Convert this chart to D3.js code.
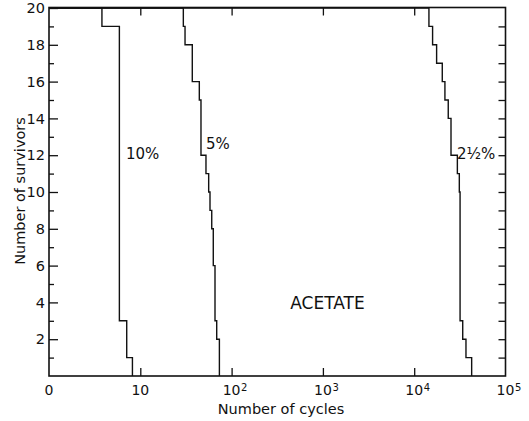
<!DOCTYPE html>
<html>
<head>
<meta charset="utf-8">
<script src="https://cdn.jsdelivr.net/npm/d3@7"></script>
<style>
  body { margin: 0; background: #fff; }
  svg { display: block; font-family: "DejaVu Sans", sans-serif; }
  .axis path { display: none; }
  .axis line { stroke: #111; stroke-width: 1.3; }
  .axis text { fill: #111; }
</style>
</head>
<body>
<div class="container"></div>
<script>
// survivors remaining after each failure, cycles
const cycles10 = [3.8, 5.9, 7.1, 8.2];
const surv10 = [19, 3, 1, 0];
const cycles5 = [29.6, 30.9, 37.1, 44.3, 46.2, 52.4, 56.1, 58.0, 60.6, 63.0, 65.8, 68.7, 73.5];
const surv5 = [19, 18, 16, 15, 12, 11, 10, 9, 8, 6, 3, 2, 0];
const cycles25 = [14500, 15900, 17600, 20300, 21700, 23600, 25300, 29700, 31200, 31800, 34000, 36900, 42600];
const surv25 = [19, 18, 17, 16, 15, 14, 12, 11, 10, 3, 2, 1, 0];

const seriesNames = ["10%", "5%", "2½%"];
const startCount = 20;

const xTickValues = [1, 10, 100, 1000, 10000, 100000];
const xTickBase = ["0", "10", "10", "10", "10", "10"];
const xTickExp = ["", "", "2", "3", "4", "5"];
const yMajor = [2, 4, 6, 8, 10, 12, 14, 16, 18, 20];
const yMinor = [1, 3, 5, 7, 9, 11, 13, 15, 17, 19];
const yAll = d3.range(1, 20);

const w = 529;
const h = 421;
const padLeft = 49, padRight = 505.5, padTop = 7.5, padBottom = 376;

const xScale = d3.scaleLog().domain([1, 100000]).range([padLeft, padRight]);
const yScale = d3.scaleLinear().domain([0, 20]).range([padBottom, 8]);

const svg = d3.select(".container")
  .append("svg")
  .attr("width", w)
  .attr("height", h);

svg.append("rect").attr("width", w).attr("height", h).attr("fill", "#fff");

// bottom axis: inward ticks, labels done by hand for the exponents
const xAxis = d3.axisBottom(xScale)
  .tickValues(xTickValues.slice(1, 5))
  .tickSizeInner(-8).tickSizeOuter(0)
  .tickFormat("");
svg.append("g")
  .attr("class", "axis")
  .attr("transform", "translate(0," + padBottom + ")")
  .call(xAxis);

const xLab = svg.append("g").attr("font-size", 14).attr("fill", "#111");
xTickValues.forEach((v, i) => {
  const g = xLab.append("g").attr("transform", "translate(" + xScale(v) + ",395)");
  g.append("text").attr("text-anchor", "middle").text(xTickBase[i]);
  if (xTickExp[i] !== "") {
    g.append("text")
      .attr("x", 9.5)
      .attr("y", -4)
      .attr("font-size", 10)
      .text(xTickExp[i]);
  }
});

// top axis ticks
svg.append("g")
  .attr("class", "axis")
  .attr("transform", "translate(0," + padTop + ")")
  .call(d3.axisTop(xScale).tickValues(xTickValues.slice(1, 5)).tickSizeInner(-8).tickSizeOuter(0).tickFormat(""));

// left axis, major with labels and minor without
svg.append("g")
  .attr("class", "axis")
  .attr("transform", "translate(" + padLeft + ",0)")
  .call(d3.axisLeft(yScale).tickValues(yMajor).tickSizeInner(-9).tickSizeOuter(0).tickPadding(4).tickFormat(d3.format("d")))
  .call(g => g.selectAll("text").attr("font-size", 14.5).attr("font-family", "DejaVu Sans"));
svg.append("g")
  .attr("class", "axis")
  .attr("transform", "translate(" + padLeft + ",0)")
  .call(d3.axisLeft(yScale).tickValues(yMinor).tickSizeInner(-5).tickSizeOuter(0).tickFormat(""));

// right axis ticks at every survivor count
svg.append("g")
  .attr("class", "axis")
  .attr("transform", "translate(" + padRight + ",0)")
  .call(d3.axisRight(yScale).tickValues(yAll).tickSizeInner(-7).tickSizeOuter(0).tickFormat(""));

// frame
svg.append("rect")
  .attr("x", padLeft).attr("y", padTop)
  .attr("width", padRight - padLeft).attr("height", padBottom - padTop)
  .attr("fill", "none").attr("stroke", "#111").attr("stroke-width", 1.6);

// step curves
const line = d3.line()
  .x(d => xScale(d[0]))
  .y(d => yScale(d[1]))
  .curve(d3.curveStepAfter);

const allSeries = [[cycles10, surv10], [cycles5, surv5], [cycles25, surv25]];
allSeries.forEach(s => {
  const pts = [[1, startCount]].concat(s[0].map((c, i) => [c, s[1][i]]));
  svg.append("path")
    .datum(pts)
    .attr("fill", "none")
    .attr("stroke", "#111")
    .attr("stroke-width", 1.4)
    .attr("d", line);
});

// curve labels
const labelPos = [[126, 159], [206, 149], [457, 159]];
seriesNames.forEach((n, i) => {
  svg.append("text")
    .attr("x", labelPos[i][0])
    .attr("y", labelPos[i][1])
    .attr("font-size", 15)
    .attr("fill", "#111")
    .text(n);
});

svg.append("text")
  .attr("x", 327.5).attr("y", 309)
  .attr("text-anchor", "middle")
  .attr("font-size", 17)
  .attr("fill", "#111")
  .text("ACETATE");

svg.append("text")
  .attr("x", 281).attr("y", 414)
  .attr("text-anchor", "middle")
  .attr("font-size", 14.5)
  .attr("fill", "#111")
  .text("Number of cycles");

svg.append("text")
  .attr("transform", "translate(25,191) rotate(-90)")
  .attr("text-anchor", "middle")
  .attr("font-size", 14.5)
  .attr("fill", "#111")
  .text("Number of survivors");
</script>
</body>
</html>
